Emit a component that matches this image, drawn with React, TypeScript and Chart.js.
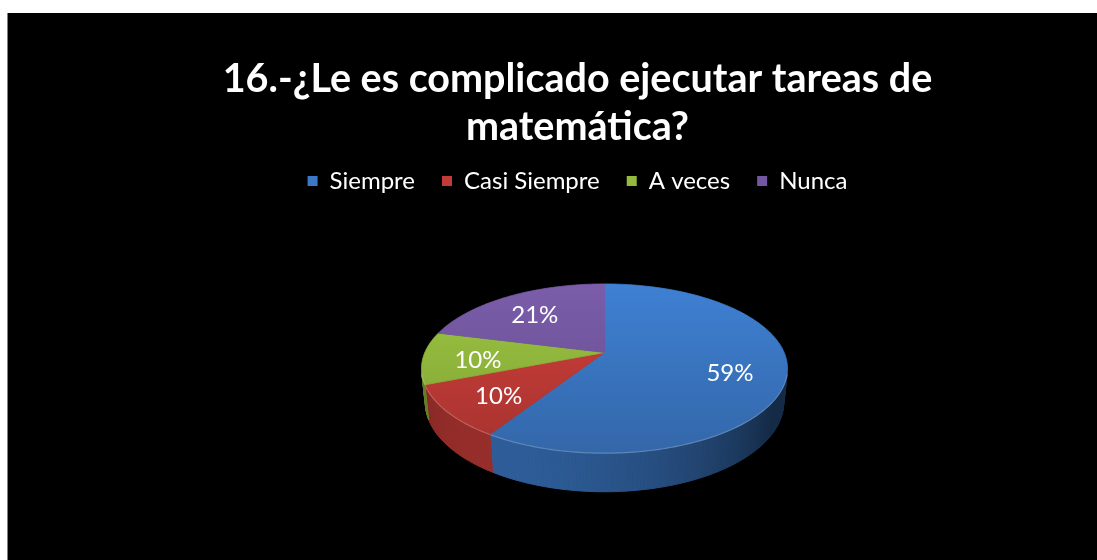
import { useEffect, useRef } from "react";
import { Chart, registerables } from "chart.js";

Chart.register(...registerables);

const titleLines = ["16.-¿Le es complicado ejecutar tareas de", "matemática?"];
const categories = ["Siempre", "Casi Siempre", "A veces", "Nunca"];
const percentValues = [59, 10, 10, 21];
const sliceColors = ["#3b78c5", "#c23b37", "#93ba3e", "#7357a0"];

const FONT = "Lato, 'Open Sans', 'DejaVu Sans', sans-serif";

function hexToRgb(hex: string): number[] {
  const h = hex.replace("#", "");
  return [0, 2, 4].map((i) => parseInt(h.slice(i, i + 2), 16));
}
function shade(rgb: number[], f: number): string {
  const c = rgb.map((v) => Math.max(0, Math.min(255, Math.round(v * f))));
  return `rgb(${c[0]},${c[1]},${c[2]})`;
}

const pie3dPlugin = {
  id: "pie3d",
  beforeDatasetsDraw(chart: any, _args: any, opts: any) {
    const meta = chart.getDatasetMeta(0);
    const arcs = meta.data;
    if (!arcs.length) return false;
    const ctx: CanvasRenderingContext2D = chart.ctx;
    const first = arcs[0];
    const cx = first.x + opts.offsetX;
    const cy = first.y + opts.offsetY;
    const alpha = (opts.elevation * Math.PI) / 180;
    const s = Math.sin(alpha);
    const c = Math.cos(alpha);
    const D = opts.distance;
    const H = opts.thickness;
    const tStar = Math.asin(c / D);
    const F = (opts.halfWidth * (D - c * Math.sin(tStar))) / Math.cos(tStar);
    const proj = (x: number, z: number, y: number): [number, number] => {
      const depth = D - y * s - z * c;
      return [cx + (x * F) / depth, cy - ((y * c - z * s) * F) / depth];
    };
    const step = Math.PI / 180;
    const angles = (a0: number, a1: number) => {
      const n = Math.max(2, Math.ceil((a1 - a0) / step));
      const out: number[] = [];
      for (let k = 0; k <= n; k++) out.push(a0 + ((a1 - a0) * k) / n);
      return out;
    };
    const datasetValues = chart.data.datasets[0].data;
    const colors = chart.data.datasets[0].backgroundColor;

    ctx.save();
    // side walls
    arcs.forEach((arc: any, i: number) => {
      const { startAngle, endAngle } = arc.getProps(["startAngle", "endAngle"], true);
      const rgb = hexToRgb(colors[i]);
      const list = angles(startAngle, endAngle);
      for (let k = 0; k < list.length - 1; k++) {
        const a = list[k];
        const b = list[k + 1];
        const m = (a + b) / 2;
        if (D * c * Math.sin(m) - 1 <= 0) continue;
        const lam = Math.max(0, -0.55 * Math.cos(m) + 0.83 * Math.sin(m));
        const col = shade(rgb, 0.36 + 0.42 * lam);
        const p1 = proj(Math.cos(a), Math.sin(a), 0);
        const p2 = proj(Math.cos(b), Math.sin(b), 0);
        const p3 = proj(Math.cos(b), Math.sin(b), -H);
        const p4 = proj(Math.cos(a), Math.sin(a), -H);
        ctx.beginPath();
        ctx.moveTo(p1[0], p1[1]);
        ctx.lineTo(p2[0], p2[1]);
        ctx.lineTo(p3[0], p3[1]);
        ctx.lineTo(p4[0], p4[1]);
        ctx.closePath();
        ctx.fillStyle = col;
        ctx.strokeStyle = col;
        ctx.lineWidth = 1;
        ctx.fill();
        ctx.stroke();
      }
    });
    // top faces
    const topY = proj(0, -1, 0)[1];
    const botY = proj(0, 1, 0)[1];
    arcs.forEach((arc: any, i: number) => {
      const { startAngle, endAngle } = arc.getProps(["startAngle", "endAngle"], true);
      const rgb = hexToRgb(colors[i]);
      const grad = ctx.createLinearGradient(0, topY, 0, botY);
      grad.addColorStop(0, shade(rgb, 1.07));
      grad.addColorStop(1, shade(rgb, 0.86));
      const v = proj(0, 0, 0);
      ctx.beginPath();
      ctx.moveTo(v[0], v[1]);
      angles(startAngle, endAngle).forEach((a) => {
        const p = proj(Math.cos(a), Math.sin(a), 0);
        ctx.lineTo(p[0], p[1]);
      });
      ctx.closePath();
      ctx.fillStyle = grad;
      ctx.strokeStyle = grad;
      ctx.lineWidth = 0.8;
      ctx.fill();
      ctx.stroke();
      // rim highlight on front edge
      ctx.beginPath();
      let started = false;
      angles(startAngle, endAngle).forEach((a) => {
        if (D * c * Math.sin(a) - 1 <= 0) {
          started = false;
          return;
        }
        const p = proj(Math.cos(a), Math.sin(a), 0);
        if (!started) {
          ctx.moveTo(p[0], p[1]);
          started = true;
        } else ctx.lineTo(p[0], p[1]);
      });
      ctx.strokeStyle = "rgba(255,255,255,0.22)";
      ctx.lineWidth = 1.2;
      ctx.stroke();
    });
    // labels
    ctx.font = opts.labelFont;
    ctx.fillStyle = opts.labelColor;
    ctx.textAlign = "center";
    ctx.textBaseline = "middle";
    arcs.forEach((arc: any, i: number) => {
      const { startAngle, endAngle } = arc.getProps(["startAngle", "endAngle"], true);
      const m = (startAngle + endAngle) / 2;
      const f = opts.labelRadius;
      const p = proj(f * Math.cos(m), f * Math.sin(m), 0);
      ctx.fillText(`${datasetValues[i]}%`, p[0], p[1] + opts.labelShiftY);
    });
    ctx.restore();
    return false;
  },
};

export default function App() {
  const canvasRef = useRef<HTMLCanvasElement | null>(null);
  useEffect(() => {
    if (!canvasRef.current) return;
    Chart.defaults.font.family = FONT;
    const chart = new Chart(canvasRef.current, {
      type: "pie",
      data: {
        labels: categories,
        datasets: [
          {
            data: percentValues,
            backgroundColor: sliceColors,
            borderWidth: 0,
          },
        ],
      },
      options: {
        animation: false,
        responsive: true,
        maintainAspectRatio: false,
        layout: { padding: { left: 50, right: 0, top: 0, bottom: 0 } },
        plugins: {
          title: {
            display: true,
            text: titleLines,
            color: "#ffffff",
            font: { family: FONT, size: 39.5, weight: "bold", lineHeight: "48px" },
            padding: { top: 42, bottom: -9 },
          },
          legend: {
            display: true,
            position: "top",
            labels: {
              color: "#ffffff",
              font: { family: FONT, size: 24 },
              boxWidth: 10,
              boxHeight: 10,
              padding: 27,
            },
          },
          tooltip: { enabled: false },
          pie3d: {
            offsetX: 27,
            offsetY: -29,
            elevation: 27,
            distance: 4.69,
            thickness: 0.213,
            halfWidth: 183,
            labelRadius: 0.7,
            labelShiftY: 4,
            labelFont: `24px ${FONT}`,
            labelColor: "#ffffff",
          },
        } as any,
      },
      plugins: [pie3dPlugin],
    });
    return () => chart.destroy();
  }, []);

  return (
    <div
      style={{
        position: "fixed",
        left: 7,
        top: 13,
        right: 0,
        bottom: 0,
        background: "#000000",
        borderLeft: "1px solid #808080",
      }}
    >
      <canvas ref={canvasRef} />
    </div>
  );
}
